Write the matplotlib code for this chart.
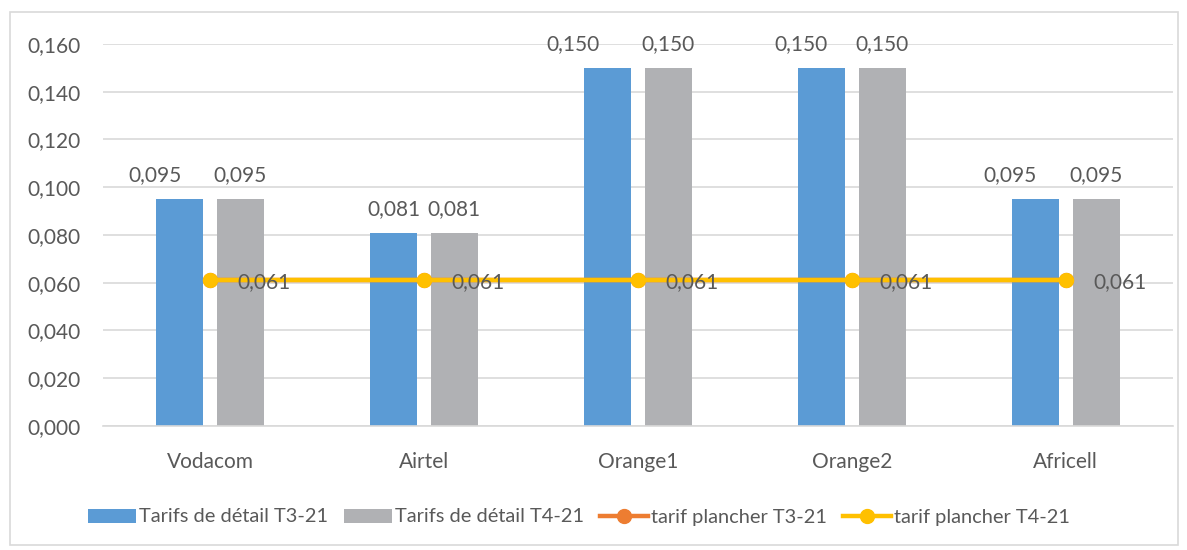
import matplotlib
matplotlib.use("Agg")
import matplotlib.pyplot as plt
import numpy as np
from matplotlib.patches import Rectangle

plt.rcParams['font.family'] = ['Lato', 'DejaVu Sans']

operateurs = ['Vodacom', 'Airtel', 'Orange1', 'Orange2', 'Africell']
detail_t3 = [0.095, 0.081, 0.150, 0.150, 0.095]
detail_t4 = [0.095, 0.081, 0.150, 0.150, 0.095]
plancher_t3 = [0.061, 0.061, 0.061, 0.061, 0.061]
plancher_t4 = [0.061, 0.061, 0.061, 0.061, 0.061]

# decalage horizontal (en points) des etiquettes T3 deplacees a la main
decal_t3 = [-18, 0, -25, -15, -18]


def fmt(v):
    return ('%.3f' % v).replace('.', ',')


fig = plt.figure(figsize=(11.87, 5.5), dpi=100)
ax = fig.add_axes([0.0868, 0.2255, 0.9012, 0.6945])

x = np.arange(len(operateurs))
w = 0.22
off = 0.1425
txt = '#595959'

b1 = ax.bar(x - off, detail_t3, w, color='#5B9BD5', label='Tarifs de détail T3-21', zorder=2)
b2 = ax.bar(x + off, detail_t4, w, color='#B0B1B4', label='Tarifs de détail T4-21', zorder=2)
l1, = ax.plot(x, plancher_t3, color='#ED7D31', lw=3.2, marker='o', ms=10,
              label='tarif plancher T3-21', zorder=3)
l2, = ax.plot(x, plancher_t4, color='#FFC000', lw=3.2, marker='o', ms=10,
              label='tarif plancher T4-21', zorder=4)

for r, dx in zip(b1, decal_t3):
    v = r.get_height()
    ax.annotate(fmt(v), (r.get_x() + r.get_width() / 2, v), xytext=(dx, 10),
                textcoords='offset points', ha='center', va='bottom',
                fontsize=15, color=txt)
for r in b2:
    v = r.get_height()
    ax.annotate(fmt(v), (r.get_x() + r.get_width() / 2, v), xytext=(0, 10),
                textcoords='offset points', ha='center', va='bottom',
                fontsize=15, color=txt)

for xi, v in zip(x, plancher_t4):
    ax.annotate(fmt(v), (xi, v), xytext=(20, -1), textcoords='offset points',
                ha='left', va='center', fontsize=15, color=txt, zorder=5)

ax.set_xlim(-0.5, len(operateurs) - 0.5)
ax.set_ylim(0, 0.16)
ax.set_yticks(np.arange(0, 0.161, 0.02))
ax.set_yticklabels([fmt(v) for v in np.arange(0, 0.161, 0.02)])
ax.set_xticks(x)
ax.set_xticklabels(operateurs)
ax.tick_params(axis='both', length=0, labelsize=15, colors=txt)
ax.tick_params(axis='x', pad=19)
ax.tick_params(axis='y', pad=16)
ax.grid(axis='y', color='#D9D9D9', lw=1.2, zorder=0)
ax.set_axisbelow(True)
for s in ('left', 'right', 'top'):
    ax.spines[s].set_visible(False)
ax.spines['bottom'].set_color('#D9D9D9')
ax.spines['bottom'].set_linewidth(1.2)

fig.legend(handles=[b1, b2, l1, l2], loc='center', bbox_to_anchor=(0.488, 0.06),
           ncol=4, frameon=False, fontsize=14.4, labelcolor=txt,
           handlelength=2.4, handletextpad=0.15, columnspacing=0.8)

fig.patches.append(Rectangle((10 / 1187, 5 / 550), 1168 / 1187, 533 / 550,
                             transform=fig.transFigure, fill=False,
                             edgecolor='#D9D9D9', lw=1.2))

fig.savefig('out.png', dpi=100)
